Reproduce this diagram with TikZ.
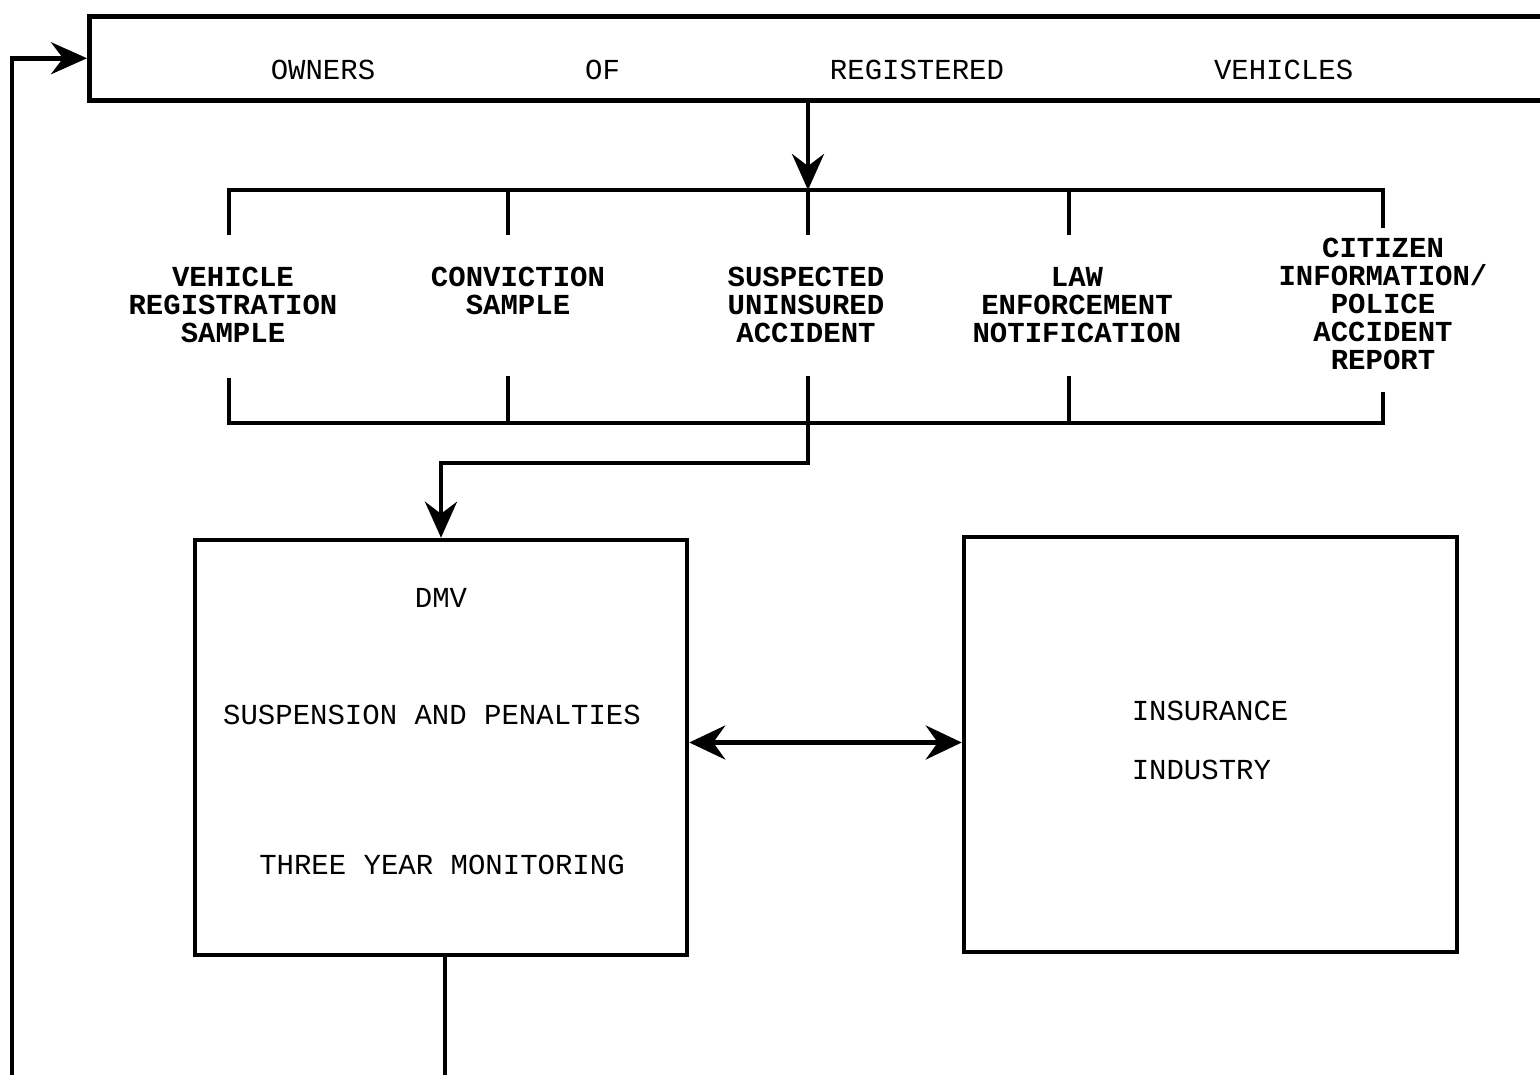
\documentclass[tikz,border=0pt]{standalone}
\usepackage{fontspec}
\setmonofont{Liberation Mono}
\usetikzlibrary{arrows.meta,positioning}

\begin{document}
\begin{tikzpicture}[x=1pt, y=-1pt, line width=4.5pt, font=\ttfamily\fontsize{29}{28}\selectfont]
        \tikzstyle{box}=[rectangle,draw=black,line width=4.5pt,inner sep=0pt]
        \tikzstyle{source}=[align=center,inner sep=0pt,font=\ttfamily\bfseries\fontsize{29}{28}\selectfont]
        \tikzstyle{plain}=[inner sep=0pt]
        \tikzstyle{flow}=[-{Stealth[length=36pt,width=32pt,inset=12pt]}]
        \tikzstyle{twoway}=[{Stealth[length=36pt,width=34pt,inset=12pt]}-{Stealth[length=36pt,width=34pt,inset=12pt]}]

        \path[use as bounding box, clip] (0,0) rectangle (1540,1074);

        % owners box, runs off the right edge
        \node[box, anchor=north west, minimum width=1480pt, minimum height=84pt] (owners) at (87,14) {};
        \node[plain] (ownerstxt) at (812,70) {OWNERS\hskip210pt OF\hskip210pt REGISTERED\hskip210pt VEHICLES};

        % sources of information
        \node[source] (vreg) at (233,305) {VEHICLE\\REGISTRATION\\SAMPLE};
        \node[source] (conv) at (518,291) {CONVICTION\\SAMPLE};
        \node[source] (susp) at (806,305) {SUSPECTED\\UNINSURED\\ACCIDENT};
        \node[source] (law) at (1077,305) {LAW\\ENFORCEMENT\\NOTIFICATION};
        \node[source] (citz) at (1383,304) {CITIZEN\\INFORMATION/\\POLICE\\ACCIDENT\\REPORT};

        \foreach \n/\x in {vreg/229, conv/508, susp/808, law/1069, citz/1383}{
            \coordinate (\n-t) at (\x,190);
            \coordinate (\n-b) at (\x,423);
        }

        \draw (vreg-t) ++(0,45) |- (citz-t) -- ++(0,38);
        \draw (vreg-b) ++(0,-45) |- (citz-b) -- ++(0,-31);
        \foreach \n in {conv,susp,law}{
            \draw (\n-t) -- ++(0,45);
            \draw (\n-b) -- ++(0,-47);
        }

        % DMV and insurance
        \node[box, minimum width=492pt, minimum height=415pt] (dmv) at (441,747.5) {};
        \node[box, minimum width=493pt, minimum height=415pt] (ins) at (1210.5,744.5) {};

        \node[plain] (dmvname) at ([yshift=150pt]dmv.center) {DMV};
        \node[plain] (penalty) at ([xshift=-9pt,yshift=33pt]dmv.center) {SUSPENSION AND PENALTIES};
        \node[plain] (monitor) at ([xshift=1pt,yshift=-117pt]dmv.center) {THREE YEAR MONITORING};
        \node[plain, align=left, anchor=west] (insname) at ([xshift=-81pt,yshift=4pt]ins.center) {INSURANCE\\[31pt]INDUSTRY};

        \coordinate (exitb) at (445,1080);
        \coordinate (loopb) at (12,1080);

        \draw[flow] (owners.south -| susp-t) -- (susp-t);
        \draw[flow] (susp-b) -- ++(0,40) -| (dmv.north);
        \draw[twoway] ([yshift=5pt]dmv.east) -- ([yshift=5pt]dmv.east -| ins.west);
        \draw (dmv.south -| exitb) -- (exitb);
        \draw[flow] (loopb) |- (owners.west);
    \end{tikzpicture}
\end{document}
